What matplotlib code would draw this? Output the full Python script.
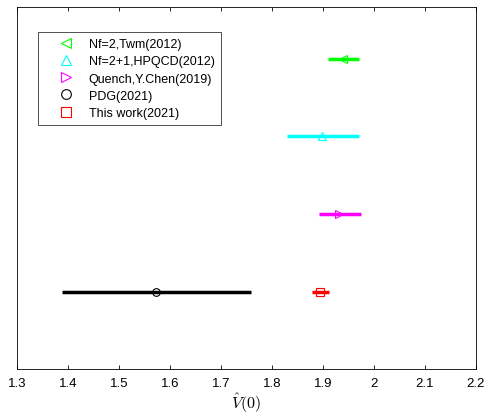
import matplotlib
matplotlib.use('Agg')
import matplotlib.pyplot as plt
from matplotlib.lines import Line2D

plt.rcParams['font.family'] = ['Liberation Sans', 'DejaVu Sans']
plt.rcParams['mathtext.fontset'] = 'cm'

labels = ['Nf=2,Twm(2012)', 'Nf=2+1,HPQCD(2012)', 'Quench,Y.Chen(2019)', 'PDG(2021)', 'This work(2021)']
centers = [1.939, 1.898, 1.931, 1.5725, 1.894]
err_lo = [0.029, 0.069, 0.039, 0.185, 0.016]
err_hi = [0.032, 0.073, 0.044, 0.186, 0.018]
ypos = [4, 3, 2, 1, 1]
colors = ['#00ff00', '#00ffff', '#ff00ff', 'black', 'red']
markers = ['<', '^', '>', 'o', 's']

fig = plt.figure(figsize=(4.87, 4.14), dpi=100)
ax = fig.add_axes([0.035, 0.106, 0.942, 0.875])

handles = []
for lab, c, lo, hi, y, col, m in zip(labels, centers, err_lo, err_hi, ypos, colors, markers):
    ax.plot([c - lo, c + hi], [y, y], color=col, lw=2.5, solid_capstyle='butt')
    ax.plot(c, y, linestyle='none', marker=m, mfc='none', mec=col, ms=5.5, mew=0.8)
    handles.append(Line2D([], [], linestyle='none', marker=m, mfc='none', mec=col,
                          ms=7, mew=0.8, label=lab))

ax.set_xlim(1.3, 2.2)
ax.set_ylim(0, 4.67)
ax.set_yticks([])
ax.set_xticks([1.3, 1.4, 1.5, 1.6, 1.7, 1.8, 1.9, 2.0, 2.1, 2.2])
ax.set_xticklabels(['1.3', '1.4', '1.5', '1.6', '1.7', '1.8', '1.9', '2', '2.1', '2.2'])
ax.tick_params(axis='x', direction='in', top=True, length=3, width=0.6, labelsize=9.5, pad=6)
for s in ax.spines.values():
    s.set_linewidth(0.6)
ax.set_xlabel(r'$\hat{V}(0)$', fontsize=11.5, labelpad=1)

leg = ax.legend(handles=handles, loc='upper left', bbox_to_anchor=(0.046, 0.931),
                borderaxespad=0, fontsize=9, frameon=True, fancybox=False,
                edgecolor='black', handletextpad=0.15, handlelength=3.4,
                borderpad=0.5, labelspacing=0.42)
leg.get_frame().set_linewidth(0.6)

fig.savefig('out.png', dpi=100)
